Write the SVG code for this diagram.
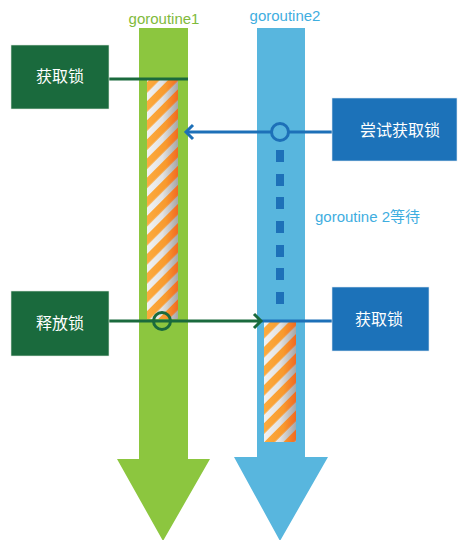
<svg xmlns="http://www.w3.org/2000/svg" width="459" height="540" viewBox="0 0 459 540">
  <style>
    .lbl { font-family: "Liberation Sans", "Noto Sans CJK SC", sans-serif; }
    .boxtxt { font-family: "Noto Sans CJK SC", "Liberation Sans", sans-serif; font-size: 16px; fill: #ffffff; text-anchor: middle; }
    .gbox { fill: #1a6a3d; stroke: #dfe9e2; stroke-width: 0.6; }
    .bbox { fill: #1c72b9; stroke: #dce8f2; stroke-width: 0.6; }
    .gline { stroke: #1a6a3d; stroke-width: 3; fill: none; }
    .bline { stroke: #1d70b8; stroke-width: 3; fill: none; }
    .dash { fill: #1d70b8; }
  </style>
  <defs>
    <linearGradient id="orangeGrad" x1="0" y1="0" x2="1" y2="0">
      <stop offset="0" stop-color="#fcab3e"/>
      <stop offset="0.6" stop-color="#f89a2e"/>
      <stop offset="1" stop-color="#f16a21"/>
    </linearGradient>
    <linearGradient id="greyGrad" x1="0" y1="0" x2="1" y2="0">
      <stop offset="0" stop-color="#f3f3f3"/>
      <stop offset="0.5" stop-color="#e2e2e2"/>
      <stop offset="1" stop-color="#a6a6a6"/>
    </linearGradient>
    <pattern id="stripePat" patternUnits="userSpaceOnUse" width="13.5" height="13.5" patternTransform="rotate(45)">
      <rect x="0" y="0" width="7.5" height="13.5" fill="#ffffff"/>
    </pattern>
    <mask id="stripeMask" maskUnits="userSpaceOnUse" x="0" y="0" width="459" height="540">
      <rect x="0" y="0" width="459" height="540" fill="url(#stripePat)"/>
    </mask>
    <marker id="chevGreen" markerUnits="userSpaceOnUse" markerWidth="14" markerHeight="18" refX="10" refY="9" orient="auto" overflow="visible">
      <path d="M3,2 L10,9 L3,16" fill="none" stroke="#1a6a3d" stroke-width="3"/>
    </marker>
    <marker id="chevBlue" markerUnits="userSpaceOnUse" markerWidth="14" markerHeight="18" refX="10" refY="9" orient="auto" overflow="visible">
      <path d="M3,2 L10,9 L3,16" fill="none" stroke="#1d70b8" stroke-width="3"/>
    </marker>
  </defs>

  <rect x="0" y="0" width="459" height="540" fill="#ffffff"/>

  <g id="goroutine1">
    <polygon points="139,28 188,28 188,459 210,459 163,541 117,459 139,459" fill="#8cc63f"/>
    <rect x="147" y="80" width="31" height="239" fill="url(#greyGrad)"/>
    <rect x="147" y="80" width="31" height="239" fill="url(#orangeGrad)" mask="url(#stripeMask)"/>
    <text class="lbl" x="164" y="24" font-size="15" fill="#7fba3c" text-anchor="middle">goroutine1</text>
  </g>

  <g id="goroutine2">
    <polygon points="257,28 305,28 305,457 328,457 280,541 234,457 257,457" fill="#58b6de"/>
    <rect x="264" y="322" width="32" height="120" fill="url(#greyGrad)"/>
    <rect x="264" y="322" width="32" height="120" fill="url(#orangeGrad)" mask="url(#stripeMask)"/>
    <text class="lbl" x="285" y="21" font-size="15" fill="#3faedf" text-anchor="middle">goroutine2</text>
  </g>

  <g id="wait">
    <rect class="dash" x="276" y="150" width="8" height="12"/>
    <rect class="dash" x="276" y="174" width="8" height="12"/>
    <rect class="dash" x="276" y="197" width="8" height="12"/>
    <rect class="dash" x="276" y="221" width="8" height="12"/>
    <rect class="dash" x="276" y="245" width="8" height="12"/>
    <rect class="dash" x="276" y="268" width="8" height="12"/>
    <rect class="dash" x="276" y="292" width="8" height="12"/>
    <text class="lbl" x="315" y="222" font-size="15" fill="#3faedf">goroutine 2<tspan font-family="Noto Sans CJK SC, sans-serif">等待</tspan></text>
  </g>

  <g id="connectors">
    <line class="gline" x1="109" y1="79" x2="188" y2="79"/>
    <line class="bline" x1="332" y1="132" x2="186" y2="132" marker-end="url(#chevBlue)"/>
    <line class="bline" x1="260" y1="321" x2="332" y2="321"/>
    <line class="gline" x1="109" y1="321" x2="261" y2="321" marker-end="url(#chevGreen)"/>
    <circle cx="280" cy="132" r="8.5" fill="#58b6de" stroke="#1d70b8" stroke-width="3"/>
    <circle cx="162" cy="321" r="8.5" fill="none" stroke="#1a6a3d" stroke-width="3"/>
  </g>

  <g id="acquire1">
    <rect class="gbox" x="11" y="45" width="98" height="64"/>
    <text class="boxtxt" x="60" y="82">获取锁</text>
  </g>

  <g id="release1">
    <rect class="gbox" x="11" y="291" width="98" height="65"/>
    <text class="boxtxt" x="60" y="329">释放锁</text>
  </g>

  <g id="try2">
    <rect class="bbox" x="332" y="98" width="125" height="63"/>
    <text class="boxtxt" x="400" y="136">尝试获取锁</text>
  </g>

  <g id="acquire2">
    <rect class="bbox" x="332" y="287" width="97" height="64"/>
    <text class="boxtxt" x="379" y="325">获取锁</text>
  </g>
</svg>
